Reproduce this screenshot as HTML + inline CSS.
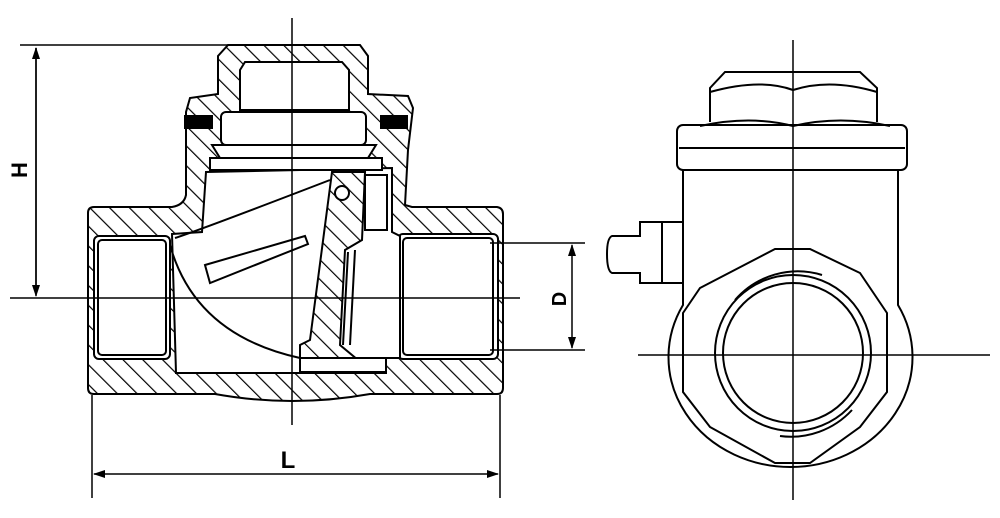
<!DOCTYPE html>
<html><head><meta charset="utf-8"><style>
html,body{margin:0;padding:0;background:#fff;width:1000px;height:518px;overflow:hidden}
svg{display:block}
text{font-family:"Liberation Sans",sans-serif;font-weight:bold;fill:#000}
</style></head><body>
<svg width="1000" height="518" viewBox="0 0 1000 518" xmlns="http://www.w3.org/2000/svg">
<defs>
<pattern id="h" width="14" height="14" patternUnits="userSpaceOnUse" patternTransform="rotate(-45)">
<rect width="14" height="14" fill="#fff"/><line x1="0" y1="0" x2="0" y2="14" stroke="#000" stroke-width="2.4"/>
</pattern>
<marker id="a" markerWidth="12" markerHeight="8" refX="11" refY="4" orient="auto" markerUnits="userSpaceOnUse">
<path d="M0,0 L12,4 L0,8 Z" fill="#000"/></marker>
</defs>
<g stroke="#000" stroke-width="2" fill="none">
<path fill="url(#h)" d="M88,213 Q88,207 94,207 L172,207 Q184,205 186,195 L186,112 L190,98 L218,94 L218,56 L228,45 L360,45 L368,56 L368,94 L408,96 L413,108 L408,150 L405,205 L412,207 L497,207 Q503,208 503,214 L503,388 Q503,394 497,394 L370,394 Q292,408 215,394 L94,394 Q88,394 88,388 Z"/>
<rect x="94" y="236" width="76" height="123" rx="5" fill="#fff"/>
<rect x="98" y="240" width="68" height="115" rx="4"/>
<rect x="398" y="234" width="100" height="125" rx="5" fill="#fff"/>
<rect x="403" y="238" width="90" height="117" rx="4"/>
<path fill="#fff" d="M172,234 L202,232 L206,172 L392,168 L392,232 L400,236 L400,358 L386,358 L386,373 L176,373 Z"/>
<path fill="#fff" d="M245,62 L342,62 L349,70 L349,110 L240,110 L240,70 Z"/>
<rect x="221" y="112" width="145" height="33" rx="5" fill="#fff"/>
<path fill="#fff" d="M212,145 L376,145 L368,158 L220,158 Z"/>
<rect x="210" y="158" width="172" height="12" fill="#fff"/>
<rect x="185" y="116" width="27" height="12" fill="#000"/>
<rect x="381" y="116" width="26" height="12" fill="#000"/>
<path d="M175,238 Q200,230 330,180"/>
<path d="M205,265 L305,236 L308,244 L210,283 Z"/>
<path d="M170,245 Q195,335 300,358"/>
<path fill="url(#h)" d="M332,172 L365,172 L362,240 L345,250 L340,345 L358,360 L300,360 L300,345 L310,340 Z"/>
<rect x="365" y="175" width="22" height="55" fill="#fff"/>
<path d="M348,252 L343,345 M355,250 L350,345"/>
<circle cx="342" cy="193" r="7" fill="#fff"/>
<rect x="300" y="358" width="86" height="14" fill="#fff"/>
</g>
<g stroke="#000" stroke-width="1.5" fill="none">
<line x1="292" y1="18" x2="292" y2="425"/>
<line x1="10" y1="298" x2="520" y2="298"/>
<line x1="20" y1="45" x2="360" y2="45"/>
<line x1="36" y1="48" x2="36" y2="296" marker-end="url(#a)"/>
<line x1="36" y1="292" x2="36" y2="48" marker-end="url(#a)"/>
<line x1="490" y1="243" x2="585" y2="243"/>
<line x1="490" y1="350" x2="585" y2="350"/>
<line x1="572" y1="300" x2="572" y2="245" marker-end="url(#a)"/>
<line x1="572" y1="300" x2="572" y2="348" marker-end="url(#a)"/>
<line x1="92" y1="395" x2="92" y2="498"/>
<line x1="500" y1="395" x2="500" y2="498"/>
<line x1="290" y1="474" x2="94" y2="474" marker-end="url(#a)"/>
<line x1="290" y1="474" x2="498" y2="474" marker-end="url(#a)"/>
</g>
<text x="0" y="0" font-size="22" transform="translate(27,170) rotate(-90)" text-anchor="middle">H</text>
<text x="0" y="0" font-size="20" transform="translate(566,299) rotate(-90)" text-anchor="middle">D</text>
<text x="288" y="468" font-size="24" text-anchor="middle">L</text>
<!-- right view -->
<g stroke="#000" stroke-width="2" fill="none">
<path d="M710,122 L710,88 L725,72 L860,72 L877,88 L877,122"/>
<path d="M710,92 Q760,78 793,90 Q830,78 877,92"/>
<path d="M700,126 Q750,115 793,126 Q840,115 890,126"/>
<rect x="677" y="125" width="230" height="45" rx="6"/>
<line x1="679" y1="148" x2="905" y2="148"/>
<path d="M683,170 L683,305 A122,110 0 1 0 898,305 L898,170"/>
<polygon points="775,249 810,249 860,273 887,313 887,392 860,427 810,463 775,463 710,427 683,392 683,313 700,288" fill="#fff"/>
<circle cx="793" cy="353" r="70"/>
<circle cx="793" cy="353" r="78"/>
<path d="M735,300 A83,83 0 0 1 822,275"/>
<path d="M780,436 A83,83 0 0 0 852,410"/>
<path d="M683,222 L640,222 L640,236 L612,236 Q607,238 607,254 Q607,271 612,273 L640,273 L640,283 L683,283"/>
<line x1="662" y1="222" x2="662" y2="283"/>
</g>
<g stroke="#000" stroke-width="1.5">
<line x1="793" y1="40" x2="793" y2="500"/>
<line x1="638" y1="355" x2="990" y2="355"/>
</g>
</svg>
</body></html>
